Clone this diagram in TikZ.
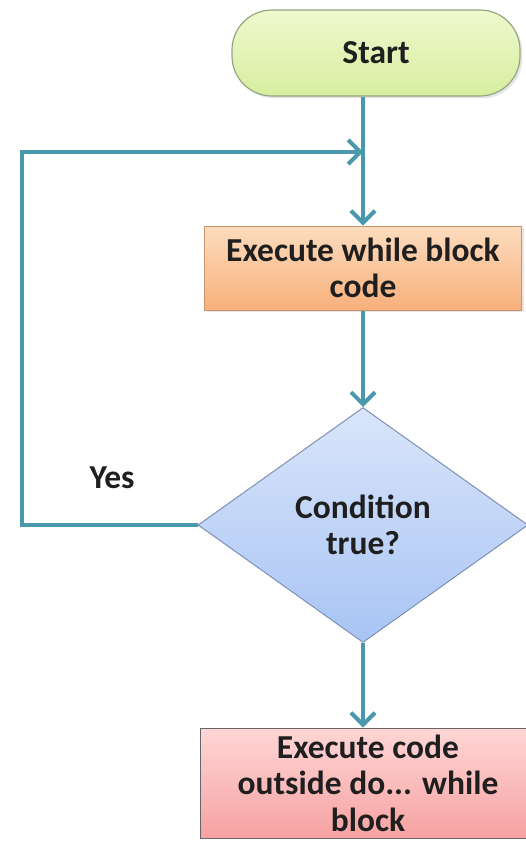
\documentclass[tikz,border=0pt]{standalone}
\usepackage{xcolor}
\usepackage{fontspec}
\setmainfont{Carlito}
\usepackage{tikz}
\usetikzlibrary{shapes, arrows.meta, positioning, calc, shadows}

\definecolor{flowteal}{RGB}{74,152,172}
\definecolor{starttop}{RGB}{240,248,205}
\definecolor{startbot}{RGB}{214,238,160}
\definecolor{startline}{RGB}{150,165,130}
\definecolor{exectop}{RGB}{252,220,190}
\definecolor{execbot}{RGB}{248,176,124}
\definecolor{execline}{RGB}{200,150,110}
\definecolor{condtop}{RGB}{218,229,250}
\definecolor{condbot}{RGB}{168,196,244}
\definecolor{condline}{RGB}{125,145,180}
\definecolor{aftertop}{RGB}{255,214,214}
\definecolor{afterbot}{RGB}{246,162,162}

\begin{document}
\begin{tikzpicture}[x=1pt, y=-1pt]
			\tikzstyle{boxtext}=[font=\fontsize{33.5}{36.5}\selectfont\bfseries, text=black!88, align=center]
			\tikzstyle{startbox}=[boxtext, draw=startline, line width=1.2, rounded corners=40pt, minimum width=288pt, minimum height=86pt, top color=starttop, bottom color=startbot, drop shadow={opacity=0.2}]
			\tikzstyle{execbox}=[boxtext, draw=execline, line width=1, minimum width=317pt, minimum height=84pt, top color=exectop, bottom color=execbot, drop shadow={opacity=0.2}]
			\tikzstyle{condbox}=[boxtext, diamond, draw=condline, line width=1, aspect=1.4, inner sep=0pt, minimum width=330pt, minimum height=235pt, top color=condtop, bottom color=condbot]
			\tikzstyle{afterbox}=[boxtext, draw=black!60, line width=1, minimum width=336pt, minimum height=110pt, top color=aftertop, bottom color=afterbot]
			\tikzstyle{flow}=[line width=4, flowteal, -{Straight Barb[length=12pt, width=24pt]}]
			
			\useasboundingbox (0,0) rectangle (526,841);
			
			\node (start) at (376,53) [startbox] {Start};
			\node (exec) at (363,268) [execbox] {Execute while block\\code};
			\node (cond) at (363,525) [condbox] {Condition\\true?};
			\node (after) at (368,783) [afterbox] {Execute code\\outside do... while\\block};
			
			\node (yes) at (112,478) [boxtext] {Yes};
			
			\coordinate (back) at (22,152);
			\coordinate (join) at (363,152);
			
			\draw [flow] (start.south -| exec) -- (exec);
			\draw [flow] (exec) -- (cond);
			\draw [flow] (cond) -- (cond |- after.north);
			%% loop back on yes
			\draw [flow] (cond.west) -| (back) -- (join);
\end{tikzpicture}
\end{document}
